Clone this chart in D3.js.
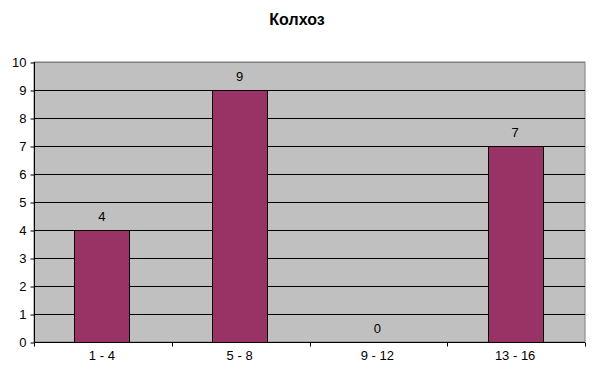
<!DOCTYPE html>
<html><head><meta charset="utf-8">
<script src="https://cdn.jsdelivr.net/npm/d3@7"></script>
<style>body{margin:0;background:#fff;font-family:"Liberation Sans",Arial,sans-serif;}</style>
</head><body>
<svg id="c" width="594" height="380"></svg>
<script>
const categories = ["1 - 4", "5 - 8", "9 - 12", "13 - 16"];
const values = [4, 9, 0, 7];
const yTicks = [0,1,2,3,4,5,6,7,8,9,10];
const title = "Колхоз";

const svg = d3.select("#c");
const L = 34, R = 585, T = 62, B = 342;
const x = d3.scaleBand().domain(categories).range([L, R]).padding(0);
const y = d3.scaleLinear().domain([0, 10]).range([B, T]);

svg.append("rect").attr("x", L).attr("y", T).attr("width", R - L).attr("height", B - T)
  .attr("fill", "#c0c0c0").attr("stroke", "#808080").attr("stroke-width", 1);

svg.append("g").selectAll("line").data(yTicks.filter(d => d > 0)).join("line")
  .attr("x1", L).attr("x2", R).attr("y1", d => Math.round(y(d)) + 0.5).attr("y2", d => Math.round(y(d)) + 0.5)
  .attr("stroke", d => d === 10 ? "#808080" : "#000").attr("stroke-width", 1);

const bw = x.bandwidth() * 0.4;
svg.append("g").selectAll("rect").data(values).join("rect")
  .attr("x", (d, i) => Math.round(x(categories[i]) + (x.bandwidth() - bw) / 2 - 1) + 0.5)
  .attr("y", d => Math.round(y(d)) + 0.5)
  .attr("width", Math.round(bw))
  .attr("height", d => Math.round(B - y(d)))
  .attr("fill", "#993366").attr("stroke", "#000").attr("stroke-width", 1)
  .style("display", d => d === 0 ? "none" : null);

svg.append("g").selectAll("text").data(values).join("text")
  .attr("x", (d, i) => x(categories[i]) + x.bandwidth() / 2 - 1)
  .attr("y", d => y(d) - 9)
  .attr("text-anchor", "middle").attr("font-size", 13).attr("fill", "#000")
  .text(d => d);

const yAxis = d3.axisLeft(y).tickValues(yTicks).tickSize(4).tickPadding(4).tickFormat(d3.format("d"));
const gy = svg.append("g").attr("transform", `translate(${L + 0.5},0.5)`).call(yAxis);
gy.selectAll("text").attr("font-size", 13).attr("font-family", "Liberation Sans, Arial, sans-serif").attr("fill", "#000");
gy.selectAll("line").attr("stroke", "#000");
gy.select(".domain").attr("stroke", "#000").attr("d", `M0,${T - 0.5}V${B - 0.5}`);

const gx = svg.append("g").attr("transform", `translate(0,${B + 0.5})`);
gx.append("line").attr("x1", L).attr("x2", R).attr("stroke", "#000");
const bounds = [0,1,2,3,4].map(i => i < 4 ? x(categories[i]) : R);
gx.selectAll("line.t").data(bounds).join("line").attr("class", "t")
  .attr("x1", d => Math.round(d) + 0.5).attr("x2", d => Math.round(d) + 0.5).attr("y1", 0).attr("y2", 4).attr("stroke", "#000");
gx.selectAll("text").data(categories).join("text")
  .attr("x", d => x(d) + x.bandwidth() / 2 - 1).attr("y", 17)
  .attr("text-anchor", "middle").attr("font-size", 13).attr("fill", "#000").text(d => d);

svg.append("text").attr("x", 297).attr("y", 25).attr("text-anchor", "middle")
  .attr("font-size", 16).attr("font-weight", "bold").attr("fill", "#000").text(title);
</script>
</body></html>
